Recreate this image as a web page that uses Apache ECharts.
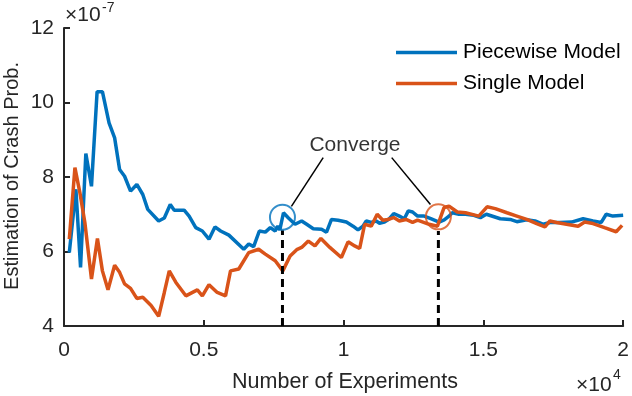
<!DOCTYPE html>
<html>
<head>
<meta charset="utf-8">
<title>Crash probability estimation</title>
<script src="https://cdn.jsdelivr.net/npm/echarts@6/dist/echarts.min.js"></script>
<style>
  html, body { margin: 0; padding: 0; background: #fff; }
  #chart { width: 632px; height: 396px; }
</style>
</head>
<body>
<div id="chart"></div>
<script type="text/javascript">
// values, y in units of 1e-7
var piecewiseData = [
  [190,5.97],[426,7.67],[592,5.57],[781,8.63],[983,7.75],[1184,10.29],[1374,10.29],[1611,9.45],
  [1811,9.05],[1989,8.2],[2167,8.02],[2380,7.62],[2605,7.8],[2818,7.53],[2996,7.13],[3386,6.82],
  [3588,6.9],[3801,7.26],[3943,7.11],[4298,7.11],[4475,6.95],[4713,6.64],[4948,6.55],[5186,6.33],
  [5399,6.66],[5602,6.55],[5897,6.44],[6429,6.06],[6607,6.2],[6784,6.13],[6987,6.55],[7200,6.52],
  [7378,6.64],[7555,6.55],[7648,6.68],[7720,6.58],[7850,7.04],[8028,6.9],[8265,6.73],[8500,6.82],
  [8680,6.73],[8916,6.61],[9212,6.6],[9390,6.52],[9567,6.86],[9804,6.84],[10100,6.79],[10338,6.68],
  [10516,6.58],[10693,6.68],[10811,6.82],[10989,6.78],[11167,6.82],[11285,6.76],[11463,6.79],
  [11640,6.88],[11793,7.02],[11995,6.95],[12173,6.88],[12315,7.09],[12468,7.06],[12645,6.95],
  [12883,6.95],[13119,6.88],[13416,6.79],[13600,6.85],[13771,6.95],[13888,7.04],[14126,7.0],
  [14361,7.0],[14659,6.97],[14894,6.91],[15107,7.0],[15604,6.88],[15960,6.86],[16197,6.8],
  [16552,6.85],[16848,6.82],[17146,6.73],[17380,6.78],[17735,6.78],[18150,6.79],[18566,6.88],
  [18922,6.82],[19216,6.78],[19393,7.0],[19631,6.95],[20000,6.97]
];
var singleData = [
  [190,6.33],[391,8.25],[568,7.58],[746,6.78],[983,5.26],[1196,6.35],[1374,5.48],[1574,4.97],
  [1811,5.63],[1989,5.44],[2167,5.13],[2380,5.01],[2605,4.74],[2818,4.77],[3115,4.55],[3386,4.26],
  [3588,4.9],[3765,5.48],[4003,5.17],[4358,4.81],[4770,4.97],[4948,4.81],[5186,5.11],[5481,4.9],
  [5778,4.81],[5956,5.48],[6252,5.53],[6607,5.97],[6962,6.06],[7200,5.93],[7555,5.75],[7826,5.48],
  [8088,5.88],[8323,6.05],[8500,6.11],[8738,6.28],[8976,6.15],[9189,6.35],[9508,6.11],[9921,5.84],
  [10160,6.26],[10398,6.15],[10575,6.08],[10752,6.73],[10989,6.68],[11202,7.0],[11404,6.84],
  [11580,6.86],[11793,6.91],[11995,6.82],[12232,6.86],[12468,6.78],[12645,6.84],[13060,6.73],
  [13356,6.68],[13593,7.18],[13771,7.22],[14066,7.06],[14361,7.04],[14836,6.95],[15132,7.2],
  [15427,7.15],[15842,7.04],[16197,6.95],[16552,6.86],[16907,6.75],[17203,6.66],[17380,6.82],
  [17618,6.78],[17974,6.73],[18389,6.68],[18625,6.79],[18922,6.75],[19334,6.64],[19749,6.53],
  [19962,6.7]
];
var seriesNames = ['Piecewise Model', 'Single Model'];
// convergence points (circles) and the dashed drop lines
var convergeX = [7814, 13391];
var convergeY = [6.92, 6.93];
var dashTop = [6.57, 6.55];
// "Converge" label and its two leader lines
var labelPos = [10407, 8.85];
var leader1 = [[9271, 8.52], [8134, 7.21]];
var leader2 = [[11722, 8.52], [13107, 7.26]];
var xTicks = ['0', '0.5', '1', '1.5', '2'];

var blue = '#0072BD', orange = '#D95319', axisColor = '#262626';
var font = '"Liberation Sans", Arial, Helvetica, sans-serif';

var myChart = echarts.init(document.getElementById('chart'), null, {renderer: 'canvas'});

var option = {
  animation: false,
  backgroundColor: '#fff',
  textStyle: {fontFamily: font},
  grid: {left: 64, right: 5, top: 28, bottom: 70, containLabel: false},
  legend: {
    data: seriesNames,
    orient: 'vertical',
    left: 391,
    top: 37,
    icon: 'rect',
    itemWidth: 61,
    itemHeight: 3.5,
    itemGap: 10,
    textStyle: {fontSize: 21, color: '#000', fontFamily: font, padding: [0, 0, 0, 1]},
    selectedMode: false
  },
  xAxis: {
    type: 'value',
    min: 0, max: 20000, interval: 5000,
    axisLine: {show: true, lineStyle: {color: axisColor, width: 2}},
    axisTick: {show: true, inside: true, length: 6, lineStyle: {color: axisColor, width: 2}},
    axisLabel: {
      color: axisColor, fontSize: 21, margin: 14, fontFamily: font,
      formatter: function (v) { return xTicks[Math.round(v / 5000)]; }
    },
    splitLine: {show: false}
  },
  yAxis: {
    type: 'value',
    min: 4, max: 12, interval: 2,
    axisLine: {show: true, lineStyle: {color: axisColor, width: 2}},
    axisTick: {show: true, inside: true, length: 6, lineStyle: {color: axisColor, width: 2}},
    axisLabel: {color: axisColor, fontSize: 21, margin: 10, fontFamily: font},
    splitLine: {show: false}
  },
  series: [
    {
      name: seriesNames[0], type: 'line', data: piecewiseData,
      symbol: 'none', color: blue, lineStyle: {width: 3.5, color: blue}, z: 3
    },
    {
      name: seriesNames[1], type: 'line', data: singleData,
      symbol: 'none', color: orange, lineStyle: {width: 3.5, color: orange}, z: 4
    },
    {
      name: 'drop1', type: 'line', symbol: 'none', z: 5,
      data: [[convergeX[0], 4], [convergeX[0], dashTop[0]]],
      lineStyle: {color: '#000', width: 3, type: [8, 5]}
    },
    {
      name: 'drop2', type: 'line', symbol: 'none', z: 5,
      data: [[convergeX[1], 4], [convergeX[1], dashTop[1]]],
      lineStyle: {color: '#000', width: 3, type: [8, 5]}
    },
    {
      name: 'lead1', type: 'line', symbol: 'none', z: 5, data: leader1,
      lineStyle: {color: '#000', width: 1.5}
    },
    {
      name: 'lead2', type: 'line', symbol: 'none', z: 5, data: leader2,
      lineStyle: {color: '#000', width: 1.5}
    },
    {
      name: 'circle1', type: 'scatter', symbol: 'circle', symbolSize: 25, z: 6,
      data: [[convergeX[0], convergeY[0]]],
      itemStyle: {color: 'rgba(0,0,0,0)', borderColor: blue, borderWidth: 2}
    },
    {
      name: 'circle2', type: 'scatter', symbol: 'circle', symbolSize: 25, z: 6,
      data: [[convergeX[1], convergeY[1]]],
      itemStyle: {color: 'rgba(0,0,0,0)', borderColor: orange, borderWidth: 2}
    },
    {
      name: 'note', type: 'scatter', symbolSize: 0, z: 6,
      data: [labelPos],
      label: {
        show: true, position: 'inside', formatter: 'Converge',
        color: '#000', fontSize: 21, fontFamily: font
      }
    }
  ],
  graphic: [
    // y axis title
    {
      type: 'text', x: 12, y: 176, rotation: Math.PI / 2,
      style: {text: 'Estimation of Crash Prob.', fill: axisColor, font: '20px ' + font,
              textAlign: 'center', textVerticalAlign: 'middle'}
    },
    // x axis title
    {
      type: 'text', x: 345, y: 382,
      style: {text: 'Number of Experiments', fill: axisColor, font: '21.5px ' + font,
              textAlign: 'center', textVerticalAlign: 'middle'}
    },
    // exponent labels
    {type: 'text', x: 65, y: 15, style: {text: '\u00d710', fill: axisColor, font: '21px ' + font, textVerticalAlign: 'middle'}},
    {type: 'text', x: 102, y: 8, style: {text: '-7', fill: axisColor, font: '14px ' + font, textVerticalAlign: 'middle'}},
    {type: 'text', x: 576, y: 385, style: {text: '\u00d710', fill: axisColor, font: '21px ' + font, textVerticalAlign: 'middle'}},
    {type: 'text', x: 613, y: 375, style: {text: '4', fill: axisColor, font: '14px ' + font, textVerticalAlign: 'middle'}}
  ]
};

myChart.setOption(option);
</script>
</body>
</html>
